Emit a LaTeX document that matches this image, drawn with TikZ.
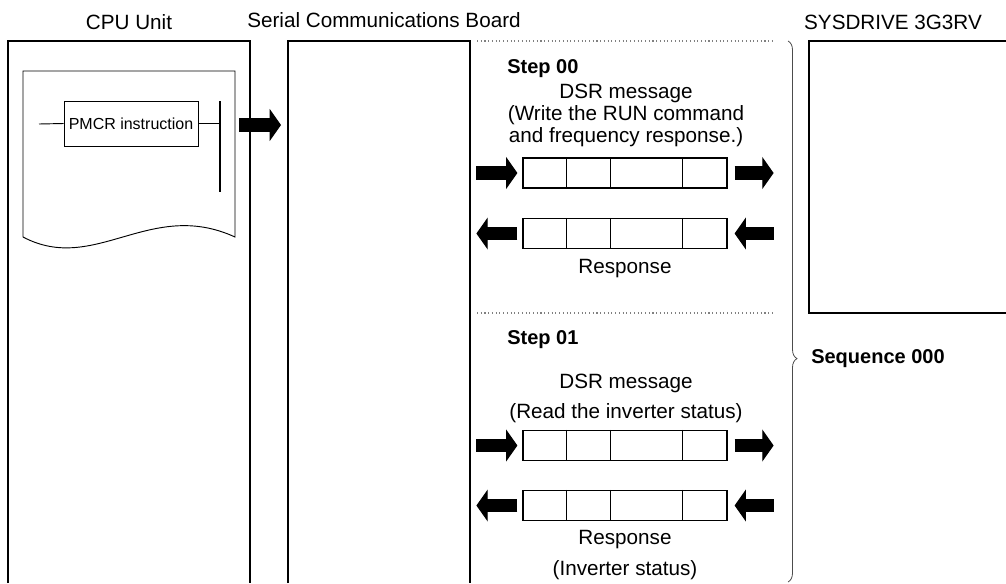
\documentclass[tikz,border=0pt]{standalone}
\usepackage{fontspec}
\setmainfont{Liberation Sans}
\usetikzlibrary{arrows.meta,calc,decorations.pathreplacing}

\tikzset{
  unitbox/.style={draw=black, line width=1.5pt},
  fatarrow/.style={line width=10pt, -{Triangle[length=8.5pt,width=24pt,line width=0.8pt]}},
  msgframe/.style={draw=black, line width=0.9pt, minimum width=153pt, minimum height=22.5pt, inner sep=0pt},
  lbl/.style={font=\fontsize{15.5}{18}\selectfont, inner sep=0pt},
  steplbl/.style={font=\fontsize{15}{18}\selectfont\bfseries, inner sep=0pt, anchor=west},
  sepline/.style={draw=gray, dotted, line width=0.8pt},
}

% cell dividers of a message frame
\newcommand{\framecells}[1]{%
  \foreach \dx in {44,88,160}
    \draw[line width=1.1pt] ($(#1.north west)+(\dx,0)$) -- ($(#1.south west)+(\dx,0)$);}

\begin{document}
\begin{tikzpicture}[x=0.75pt, y=-0.75pt]
  \useasboundingbox (0,0) rectangle (1006,583);

  % units
  \draw[unitbox] (8,583) -- (8,41) -- (250,41) -- (250,583);
  \draw[unitbox] (288,583) -- (288,41) -- (470,41) -- (470,583);
  \draw[unitbox] (809,41) rectangle (1012,313);
  \node[lbl] (cpulbl) at (129,22) {CPU Unit};
  \node[lbl] (sclbl) at (384,20) {Serial Communications Board};
  \node[lbl] (invlbl) at (893,22) {SYSDRIVE 3G3RV};

  % ladder program sheet
  \draw[line width=0.7pt] (23,237) -- (23,71) -- (235,71) -- (235,237)
    .. controls (150,198) and (95,275) .. (23,237);
  \node[draw, line width=0.7pt, minimum width=100.5pt, minimum height=33.75pt, inner sep=0pt,
        font=\fontsize{12}{14}\selectfont] (pmcr) at (131,123.5) {PMCR instruction};
  \coordinate (rungin) at (39,124);
  \coordinate (railtop) at (220,101);
  \coordinate (railbot) at (220,192);
  \draw[line width=0.7pt] (rungin) -- (pmcr.west);
  \draw[line width=0.7pt] (pmcr.east) -- (pmcr.east -| railtop);
  \draw[line width=0.9pt] (railtop) -- (railbot);
  \coordinate (cpuout) at (239,125);
  \coordinate (scin) at (281,125);
  \draw[fatarrow] (cpuout) -- (scin);

  % sequence 000
  \draw[sepline] (477,41) -- (773,41);
  \draw[sepline] (477,313) -- (773,313);
  \draw[draw=gray!60!black, line width=0.6pt, decorate,
        decoration={brace, amplitude=6.75pt, aspect=0.587}] (788,41) -- (788,582);
  \node[steplbl] (seqlbl) at (811,359) {Sequence 000};

  % step 00
  \node[steplbl] (step0) at (507,69) {Step 00};
  \node[lbl, align=center, font=\fontsize{15.5}{16.5}\selectfont] (dsr0) at (626,115)
    {DSR message\\(Write the RUN command\\and frequency response.)};
  \node[msgframe] (f1) at (625,173) {};
  \node[msgframe] (f2) at (625,233.5) {};
  \node[lbl] (resp0) at (625,269) {Response};

  % step 01
  \node[steplbl] (step1) at (507,340) {Step 01};
  \node[lbl] (dsr1) at (626,383) {DSR message};
  \node[lbl] (dsr1b) at (626,413) {(Read the inverter status)};
  \node[msgframe] (f3) at (625,445.5) {};
  \node[msgframe] (f4) at (625,505.5) {};
  \node[lbl] (resp1) at (625,540) {Response};
  \node[lbl] (resp1b) at (625,570) {(Inverter status)};

  \foreach \f in {f1,f2,f3,f4}
    \framecells{\f};
  \foreach \f in {f1,f3} {
    \draw[fatarrow] ($(\f.west)+(-46,0)$) -- ($(\f.west)+(-5,0)$);
    \draw[fatarrow] ($(\f.east)+(7,0)$) -- ($(\f.east)+(46,0)$);
  }
  \foreach \f in {f2,f4} {
    \draw[fatarrow] ($(\f.west)+(-5,0)$) -- ($(\f.west)+(-46,0)$);
    \draw[fatarrow] ($(\f.east)+(46,0)$) -- ($(\f.east)+(7,0)$);
  }
\end{tikzpicture}
\end{document}
